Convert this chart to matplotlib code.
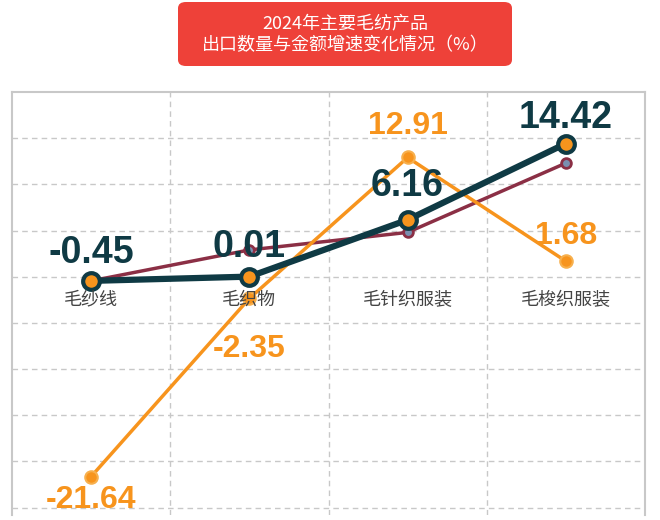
import matplotlib
matplotlib.use("Agg")
import matplotlib.pyplot as plt
from matplotlib import font_manager as fm
from matplotlib.patches import FancyBboxPatch

cjk = None
for f in fm.findSystemFonts():
    if 'CJK' in f and ('SC' in f or 'CJK-' in f or 'ttc' in f):
        try:
            fm.fontManager.addfont(f)
            cjk = fm.FontProperties(fname=f).get_name()
            break
        except Exception:
            pass
fams = [n for n in [cjk, 'Noto Sans CJK SC', 'Noto Sans CJK JP'] if n] + ['DejaVu Sans']
plt.rcParams['font.family'] = fams
names = {f.name for f in fm.fontManager.ttflist}
numfont = 'Liberation Sans Narrow' if 'Liberation Sans Narrow' in names else 'Liberation Sans'

categories = ["毛纱线", "毛织物", "毛针织服装", "毛梭织服装"]
quantity = [-0.45, 0.01, 6.16, 14.42]
amount = [-21.64, -2.35, 12.91, 1.68]
other = [-0.45, 2.9, 4.8, 12.3]
title = "2024年主要毛纺产品\n出口数量与金额增速变化情况（%）"

fig = plt.figure(figsize=(6.6, 5.2), dpi=100)
ax = fig.add_axes([12/660, 1-515/520, 633/660, 423/520])
x = list(range(len(categories)))
ax.set_xlim(-0.5, 3.5)
ax.set_ylim(-25.8, 20)
for v in range(-25, 20, 5):
    ax.axhline(v, color='#c8c8c8', ls=(0, (4, 3)), lw=1, zorder=0)
for v in [0.5, 1.5, 2.5]:
    ax.axvline(v, color='#c8c8c8', ls=(0, (4, 3)), lw=1, zorder=0)
for s in ax.spines.values():
    s.set_color('#c8c8c8'); s.set_linewidth(1.5)
ax.spines['bottom'].set_visible(False)
ax.set_xticks([]); ax.set_yticks([])

ax.plot(x, other, color='#8b2f45', lw=2.5, marker='o', ms=7, mfc='#7a8fb0', mec='#8b2f45', mew=2, zorder=3)
ax.plot(x, amount, color='#f7941d', lw=2.5, marker='o', ms=9, mfc='#f7941d', mec='#f7b04d', mew=1.5, zorder=4)
ax.plot(x, quantity, color='#0f3a44', lw=4.5, marker='o', ms=12, mfc='#f7941d', mec='#0f3a44', mew=3, zorder=5)

for i, c in enumerate(categories):
    ax.text(i, -2.5, c, ha='center', va='center', fontsize=13, color='#444444', zorder=6)

qoff = [3.0, 3.2, 3.7, 2.8]
for i, v in enumerate(quantity):
    ax.text(i, v + qoff[i], f"{v:.2f}", ha='center', va='center', fontsize=27, fontweight='bold',
            color='#0f3a44', zorder=7, family=numfont)
aoff = [-2.5, -5.5, 3.4, 2.7]
for i, v in enumerate(amount):
    ax.text(i, v + aoff[i], f"{v:.2f}", ha='center', va='center', fontsize=23, fontweight='bold',
            color='#f7941d', zorder=7, family=numfont)

box = FancyBboxPatch((178/660, 1-66/520), 334/660, 64/520, boxstyle="round,pad=0,rounding_size=0.012",
                     transform=fig.transFigure, facecolor='#ee4139', edgecolor='none')
fig.patches.append(box)
fig.text(345/660, 1-34/520, title, ha='center', va='center', color='white', fontsize=13, linespacing=1.25)

fig.savefig("out.png", dpi=100)
